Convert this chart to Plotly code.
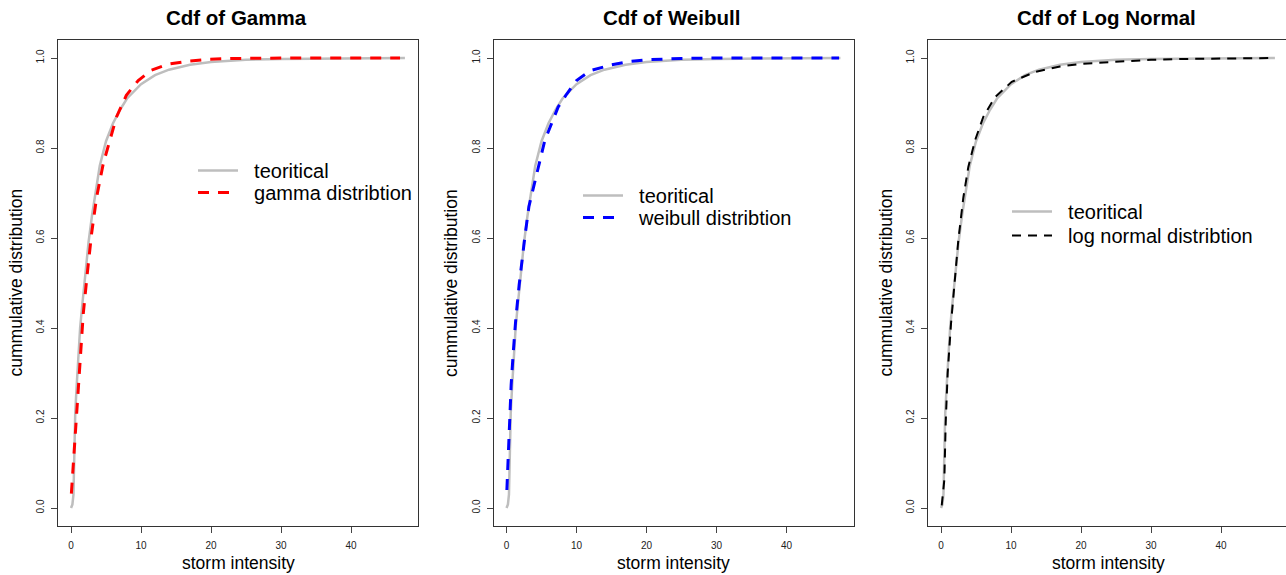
import plotly.graph_objects as go

# ---------------- data ----------------
theo_x = [0, 0.2, 0.35, 0.45, 0.6, 0.8, 1.0, 1.3, 1.6, 2.0, 2.5, 3.0, 3.5, 4.1, 5.0,
          6.0, 7.0, 8.0, 10.0, 12.0, 14.0, 17.0, 20.0, 25.0, 30.0, 35.0, 40.0, 47.7]
theo_y = [0, 0.008, 0.03, 0.13, 0.21, 0.27, 0.33, 0.40, 0.45, 0.52, 0.59, 0.65, 0.70, 0.76, 0.815,
          0.855, 0.885, 0.91, 0.942, 0.962, 0.974, 0.985, 0.991, 0.996, 0.998, 0.999, 1.0, 1.0]

gamma_x = [0.05, 0.33, 0.8, 1.28, 1.75, 2.37, 2.94, 3.65, 4.6, 5.55, 6.5, 7.9, 9.6, 11.5,
           13.8, 16.7, 19.5, 23, 27, 32, 38, 47]
gamma_y = [0.032, 0.099, 0.224, 0.336, 0.432, 0.528, 0.61, 0.69, 0.765, 0.817, 0.869, 0.917,
           0.95, 0.973, 0.986, 0.993, 0.997, 0.999, 1.0, 1.0, 1.0, 1.0]

weib_x = [0.05, 0.38, 0.66, 0.95, 1.33, 1.8, 2.23, 2.6, 3.2, 4.28, 5.47, 7.38, 8.6, 10, 12,
          15, 17.5, 20, 25, 30, 40, 47.5]
weib_y = [0.04, 0.17, 0.273, 0.343, 0.421, 0.495, 0.554, 0.6, 0.67, 0.743, 0.817, 0.891, 0.92,
          0.95, 0.972, 0.985, 0.992, 0.996, 0.999, 1.0, 1.0, 1.0]

lnorm_x = [0.1, 0.47, 0.67, 0.95, 1.43, 2.0, 2.47, 3.19, 3.9, 4.86, 6.04, 7.7, 10.1, 13.4, 15,
           17, 20, 25, 30, 35, 47.5]
lnorm_y = [0.006, 0.062, 0.19, 0.30, 0.41, 0.506, 0.595, 0.69, 0.758, 0.817, 0.869, 0.913,
           0.947, 0.969, 0.975, 0.981, 0.987, 0.992, 0.996, 0.998, 1.0]

titles = ["Cdf of Gamma", "Cdf of Weibull", "Cdf of Log Normal"]
fit_names = ["gamma distribtion", "weibull distribtion", "log normal distribtion"]
theo_name = "teoritical"
x_title = "storm intensity"
y_title = "cummulative distribution"
x_ticks = [0, 10, 20, 30, 40]
y_ticks = [0.0, 0.2, 0.4, 0.6, 0.8, 1.0]

# ---------------- layout geometry (pixels) ----------------
W, H = 1286, 575
FONT = "Liberation Sans, Arial, sans-serif"
NBSP = "\u00a0\u00a0"
panel_left = [58, 493.5, 928]
panel_w = 360
plot_top, plot_bot = 40, 526
xr = [-1.86, 49.57]
px_per_unit = panel_w / (xr[1] - xr[0])

fits = [(gamma_x, gamma_y, "#FF0000", 3, "11px,9px"),
        (weib_x, weib_y, "#0000FF", 3, "11px,9px"),
        (lnorm_x, lnorm_y, "#000000", 2, "9px,7px")]
# (legend left x, row-1 center y, row-2 center y)
legend_pos = [(193, 171, 193), (578, 196, 218), (1007, 212, 236)]

fig = go.Figure()
for i in range(3):
    sfx = "" if i == 0 else str(i + 1)
    leg_a = "legend" if i == 0 else "legend" + str(2 * i + 1)
    leg_b = "legend" + str(2 * i + 2)
    fx, fy, col, lw, dash = fits[i]
    fig.add_trace(go.Scatter(x=theo_x, y=theo_y, mode="lines", name=NBSP + theo_name,
                             line=dict(color="#BEBEBE", width=2.5),
                             xaxis="x" + sfx, yaxis="y" + sfx, legend=leg_a))
    fig.add_trace(go.Scatter(x=fx, y=fy, mode="lines", name=NBSP + fit_names[i],
                             line=dict(color=col, width=lw, dash=dash),
                             xaxis="x" + sfx, yaxis="y" + sfx, legend=leg_b))

layout = dict(width=W, height=H, autosize=False,
              margin=dict(l=0, r=0, t=0, b=0, pad=0),
              paper_bgcolor="white", plot_bgcolor="white",
              font=dict(family=FONT, color="#000000"))

annotations = []
for i in range(3):
    sfx = "" if i == 0 else str(i + 1)
    left = panel_left[i]
    right = min(left + panel_w, W)
    rng = [xr[0], xr[0] + (right - left) / px_per_unit]
    layout["xaxis" + sfx] = dict(
        domain=[left / W, right / W], range=rng, anchor="y" + sfx,
        tickvals=x_ticks, ticktext=[str(v) for v in x_ticks],
        ticks="outside", ticklen=6, tickcolor="#444", tickwidth=1,
        tickfont=dict(size=10, color="#222", family=FONT),
        ticklabelstandoff=4,
        showline=True, mirror=True, linecolor="#333", linewidth=1,
        showgrid=False, zeroline=False, fixedrange=True)
    layout["yaxis" + sfx] = dict(
        domain=[1 - plot_bot / H, 1 - plot_top / H], range=[-0.04, 1.04], anchor="x" + sfx,
        tickvals=y_ticks, ticktext=["%.1f" % v for v in y_ticks], tickangle=-90,
        ticks="outside", ticklen=6, tickcolor="#444", tickwidth=1,
        tickfont=dict(size=10, color="#222", family=FONT),
        ticklabelstandoff=3,
        showline=True, mirror=(i < 2), linecolor="#333", linewidth=1,
        showgrid=False, zeroline=False, fixedrange=True)
    lx, ly1, ly2 = legend_pos[i]
    for name, ly in ((("legend" if i == 0 else "legend" + str(2 * i + 1)), ly1),
                     ("legend" + str(2 * i + 2), ly2)):
        layout[name] = dict(
            x=lx / W, y=1 - (ly - 20) / H, xanchor="left", yanchor="top",
            bgcolor="rgba(0,0,0,0)", borderwidth=0,
            font=dict(size=20, family=FONT, color="#000"), itemwidth=40)
    cx = (left + left + panel_w) / 2
    annotations.append(dict(text="<b>%s</b>" % titles[i], x=(cx - 2) / W, y=1 - 17.5 / H,
                            xref="paper", yref="paper", showarrow=False,
                            font=dict(size=20.5, family=FONT, color="#000"),
                            xanchor="center", yanchor="middle"))
    annotations.append(dict(text=x_title, x=cx / W, y=1 - 563 / H,
                            xref="paper", yref="paper", showarrow=False,
                            font=dict(size=17.5, family=FONT, color="#000"),
                            xanchor="center", yanchor="middle"))
    annotations.append(dict(text=y_title, x=(left - 42.5) / W, y=1 - ((plot_top + plot_bot) / 2) / H,
                            xref="paper", yref="paper", showarrow=False, textangle=-90,
                            font=dict(size=17.5, family=FONT, color="#000"),
                            xanchor="center", yanchor="middle"))
layout["annotations"] = annotations
layout["showlegend"] = True
fig.update_layout(**layout)

fig.write_html("out.html")
